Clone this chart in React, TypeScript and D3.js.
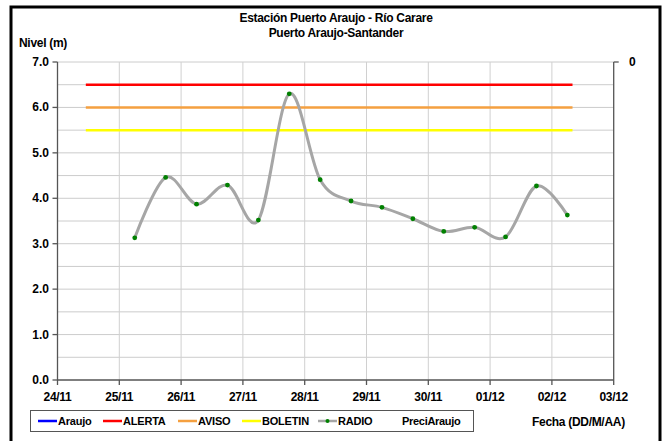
import React from "react";
import * as d3 from "d3";

// readings every 12 hours (06:00 / 18:00)
const radioTimes = [
  "2013-11-25T06:00", "2013-11-25T18:00", "2013-11-26T06:00", "2013-11-26T18:00",
  "2013-11-27T06:00", "2013-11-27T18:00", "2013-11-28T06:00", "2013-11-28T18:00",
  "2013-11-29T06:00", "2013-11-29T18:00", "2013-11-30T06:00", "2013-11-30T18:00",
  "2013-12-01T06:00", "2013-12-01T18:00", "2013-12-02T06:00",
];
const radioValues = [3.13, 4.46, 3.87, 4.29, 3.52, 6.3, 4.41, 3.94, 3.8, 3.55, 3.27, 3.36, 3.15, 4.27, 3.63];

const thresholdNames = ["ALERTA", "AVISO", "BOLETIN"];
const thresholdValues = [6.5, 6.0, 5.5];
const thresholdColors = ["#ff0000", "#f5a040", "#ffff00"];
const thresholdStart = "2013-11-24T11:00";
const thresholdEnd = "2013-12-02T08:00";

const dayTicks = ["24/11", "25/11", "26/11", "27/11", "28/11", "29/11", "30/11", "01/12", "02/12", "03/12"];
const yTicks = [0, 1, 2, 3, 4, 5, 6, 7];

const font = "'Liberation Sans', Arial, sans-serif";

export default function App() {
  const width = 667;
  const height = 441;
  const left = 57.5;
  const right = 613.7;
  const top = 62;
  const bottom = 380;

  const x = d3
    .scaleTime()
    .domain([new Date("2013-11-24T00:00"), new Date("2013-12-03T00:00")])
    .range([left, right]);
  const y = d3.scaleLinear().domain([0, 7]).range([bottom, top]);

  const days = d3.timeDay.range(new Date("2013-11-24T00:00"), new Date("2013-12-03T01:00"));
  const gridY = d3.range(0.5, 7.01, 0.5);

  const points = radioTimes.map((t, i) => ({ t: new Date(t), v: radioValues[i] }));
  const line = d3
    .line<{ t: Date; v: number }>()
    .x((d) => x(d.t))
    .y((d) => y(d.v))
    .curve(d3.curveCardinal.tension(0));

  const legendItems = [
    { name: "Araujo", color: "#0000ff" },
    { name: "ALERTA", color: thresholdColors[0] },
    { name: "AVISO", color: thresholdColors[1] },
    { name: "BOLETIN", color: thresholdColors[2] },
    { name: "RADIO", color: "#a6a6a6", marker: true },
  ];
  const legendX = [38, 103, 178, 242, 318];

  return (
    <svg width={width} height={height} style={{ display: "block", position: "absolute", left: 0, top: 0 }} fontFamily={font}>
      <rect x={0} y={0} width={width} height={height} fill="#fff" />
      <rect x={11} y={7} width={649} height={450} fill="none" stroke="#000" strokeWidth={3} />

      <text x={336} y={22} textAnchor="middle" fontSize={12} fontWeight="bold" letterSpacing={-0.3}>
        Estación Puerto Araujo - Río Carare
      </text>
      <text x={336} y={37} textAnchor="middle" fontSize={12} fontWeight="bold" letterSpacing={-0.3}>
        Puerto Araujo-Santander
      </text>
      <text x={19} y={47} fontSize={12} fontWeight="bold" letterSpacing={-0.3}>
        Nivel (m)
      </text>

      {/* grid */}
      {gridY.map((v) => (
        <line key={"gy" + v} x1={left} x2={right} y1={y(v)} y2={y(v)} stroke="#cccccc" strokeWidth={1} />
      ))}
      {days.slice(1, -1).map((d, i) => (
        <line key={"gx" + i} x1={x(d)} x2={x(d)} y1={top} y2={bottom} stroke="#d0d0d0" strokeWidth={1} />
      ))}

      {/* thresholds */}
      {thresholdValues.map((v, i) => (
        <line
          key={thresholdNames[i]}
          x1={x(new Date(thresholdStart))}
          x2={x(new Date(thresholdEnd))}
          y1={y(v)}
          y2={y(v)}
          stroke={thresholdColors[i]}
          strokeWidth={2.5}
        />
      ))}

      {/* radio series */}
      <path d={line(points) || ""} fill="none" stroke="#a6a6a6" strokeWidth={3} />
      {points.map((p, i) => (
        <circle key={"p" + i} cx={x(p.t)} cy={y(p.v)} r={2.4} fill="#008000" />
      ))}

      {/* axes */}
      <line x1={left} x2={left} y1={top} y2={bottom} stroke="#555" strokeWidth={1.3} />
      <line x1={right} x2={right} y1={top} y2={bottom} stroke="#555" strokeWidth={1.3} />
      <line x1={left} x2={right} y1={bottom} y2={bottom} stroke="#555" strokeWidth={1.3} />
      <line x1={right} x2={right + 5} y1={top} y2={top} stroke="#555" strokeWidth={1.3} />
      <text x={629} y={66} fontSize={12} fontWeight="bold">0</text>

      {yTicks.map((v) => (
        <g key={"yt" + v}>
          <line x1={left - 5} x2={left} y1={y(v)} y2={y(v)} stroke="#555" strokeWidth={1.3} />
          <text x={49} y={y(v) + 4} textAnchor="end" fontSize={12} fontWeight="bold">
            {v.toFixed(1)}
          </text>
        </g>
      ))}
      {days.map((d, i) => (
        <g key={"xt" + i}>
          <line x1={x(d)} x2={x(d)} y1={bottom} y2={bottom + 5} stroke="#555" strokeWidth={1.3} />
          <text x={x(d)} y={401} textAnchor="middle" fontSize={12} fontWeight="bold" letterSpacing={-0.3}>
            {dayTicks[i]}
          </text>
        </g>
      ))}

      {/* legend */}
      <rect x={30.5} y={410.5} width={443} height={21} fill="#fff" stroke="#555" strokeWidth={1} />
      {legendItems.map((item, i) => (
        <g key={item.name}>
          <line x1={legendX[i]} x2={legendX[i] + 19} y1={421} y2={421} stroke={item.color} strokeWidth={2.5} />
          {item.marker ? <circle cx={legendX[i] + 9.5} cy={421} r={2} fill="#008000" /> : null}
          <text x={legendX[i] + 20} y={425} fontSize={11} fontWeight="bold" letterSpacing={-0.2}>
            {item.name}
          </text>
        </g>
      ))}
      <text x={402} y={425} fontSize={11} fontWeight="bold" letterSpacing={-0.3}>
        PreciAraujo
      </text>
      <text x={532} y={426} fontSize={12} fontWeight="bold" letterSpacing={-0.3}>
        Fecha (DD/M/AA)
      </text>
    </svg>
  );
}
